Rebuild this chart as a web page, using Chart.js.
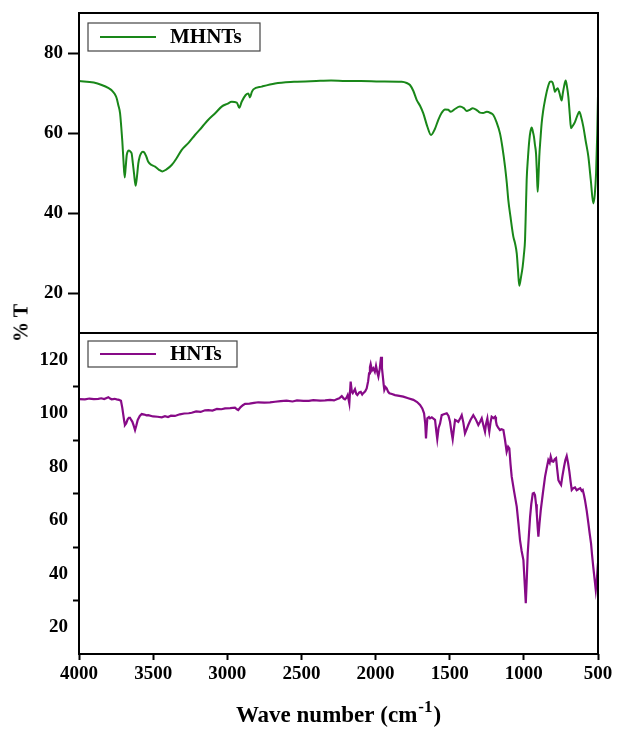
<!DOCTYPE html>
<html>
<head>
<meta charset="utf-8">
<script src="https://cdn.jsdelivr.net/npm/chart.js@4.4.1/dist/chart.umd.min.js"></script>
<style>
  body { margin: 0; background: #fff; }
  #wrap { position: relative; width: 620px; height: 735px; }
  canvas { position: absolute; left: 0; }
  #top-chart { top: 0; }
  #bottom-chart { top: 326px; }
  #ylabel {
    position: absolute; left: 21px; top: 323px;
    transform: translate(-50%, -50%) rotate(-90deg);
    font: bold 20px 'Liberation Serif', serif; white-space: nowrap; color: #000;
  }
</style>
</head>
<body>
<div id="wrap">
  <canvas id="top-chart" width="620" height="340"></canvas>
  <canvas id="bottom-chart" width="620" height="409"></canvas>
  <div id="ylabel">% T</div>
</div>
<script>
// wave numbers (cm-1) and %T
const mhntsWave = [4000, 3900, 3847, 3800, 3780, 3760, 3746, 3735, 3723, 3715, 3708, 3700, 3692, 3685, 3678, 3663, 3650, 3645, 3637, 3629, 3618, 3608, 3600, 3590, 3582, 3570, 3559, 3545, 3533, 3510, 3487, 3460, 3438, 3410, 3375, 3340, 3307, 3260, 3218, 3170, 3128, 3080, 3038, 3000, 2970, 2936, 2919, 2903, 2876, 2858, 2847, 2835, 2824, 2768, 2678, 2550, 2400, 2300, 2200, 2100, 1970, 1824, 1790, 1768, 1745, 1723, 1700, 1678, 1650, 1626, 1600, 1577, 1555, 1532, 1510, 1493, 1465, 1431, 1405, 1385, 1365, 1345, 1320, 1296, 1275, 1250, 1225, 1206, 1185, 1161, 1145, 1127, 1115, 1105, 1090, 1071, 1060, 1048, 1040, 1031, 1020, 1008, 1000, 992, 987, 981, 972, 963, 955, 947, 940, 932, 925, 918, 912, 907, 902, 896, 888, 880, 870, 857, 840, 824, 815, 806, 798, 790, 782, 772, 760, 745, 737, 729, 718, 710, 700, 690, 682, 670, 655, 640, 626, 615, 599, 583, 565, 548, 532, 522, 513, 505, 500]
const mhntsT = [73.0, 72.6, 72.0, 71.2, 70.7, 69.8, 68.7, 67.0, 64.9, 61.5, 58.0, 53.0, 48.9, 51.5, 54.5, 55.6, 55.2, 54.9, 52.5, 49.9, 46.8, 49.5, 52.4, 54.2, 54.9, 55.3, 55.1, 54.0, 52.8, 52.0, 51.6, 50.8, 50.4, 50.9, 52.0, 53.8, 55.8, 57.6, 59.5, 61.5, 63.3, 65.0, 66.6, 67.3, 67.8, 67.6, 66.3, 67.8, 69.5, 69.9, 68.9, 70.2, 70.9, 71.6, 72.4, 72.8, 73.0, 73.1, 73.0, 73.0, 72.9, 72.8, 72.5, 72.0, 70.5, 68.3, 66.8, 64.9, 61.5, 59.5, 61.0, 63.3, 65.0, 65.9, 65.8, 65.3, 66.0, 66.6, 66.2, 65.5, 65.8, 66.2, 65.8, 65.1, 65.0, 65.3, 65.0, 64.5, 62.8, 59.9, 56.5, 51.6, 47.5, 43.3, 39.0, 34.1, 32.5, 29.9, 26.0, 21.8, 23.8, 26.6, 29.5, 33.3, 40.0, 48.3, 54.0, 58.3, 60.5, 61.4, 60.5, 59.1, 57.0, 54.9, 50.0, 45.3, 48.5, 54.1, 58.5, 62.4, 65.5, 68.3, 71.2, 72.8, 72.9, 72.6, 71.5, 70.3, 70.8, 71.2, 70.0, 68.1, 70.0, 71.6, 73.1, 71.8, 69.1, 64.5, 61.2, 61.8, 62.8, 64.3, 65.3, 64.2, 61.6, 58.0, 54.1, 48.0, 42.4, 44.5, 49.9, 60.0, 69.5]

const hntsWave = [4000, 3960, 3930, 3900, 3870, 3850, 3830, 3810, 3802, 3790, 3780, 3760, 3746, 3730, 3717, 3708, 3701, 3695, 3690, 3682, 3672, 3664, 3656, 3648, 3640, 3630, 3622, 3613, 3604, 3590, 3577, 3560, 3545, 3533, 3500, 3470, 3442, 3420, 3400, 3380, 3353, 3320, 3290, 3260, 3240, 3210, 3180, 3150, 3128, 3100, 3070, 3040, 3015, 2980, 2948, 2935, 2926, 2910, 2895, 2880, 2850, 2820, 2791, 2750, 2712, 2678, 2640, 2600, 2560, 2530, 2487, 2450, 2420, 2375, 2340, 2307, 2280, 2262, 2245, 2228, 2215, 2206, 2196, 2188, 2177, 2168, 2160, 2154, 2139, 2130, 2123, 2110, 2100, 2090, 2083, 2070, 2060, 2050, 2044, 2038, 2033, 2024, 2015, 2005, 1997, 1988, 1981, 1972, 1963, 1957, 1952, 1945, 1941, 1933, 1925, 1915, 1907, 1890, 1869, 1840, 1813, 1780, 1745, 1720, 1700, 1685, 1673, 1665, 1660, 1655, 1651, 1640, 1633, 1621, 1610, 1599, 1590, 1584, 1575, 1565, 1554, 1540, 1520, 1508, 1498, 1488, 1480, 1472, 1464, 1453, 1442, 1430, 1419, 1408, 1397, 1386, 1375, 1360, 1341, 1325, 1307, 1295, 1284, 1273, 1262, 1255, 1246, 1240, 1233, 1225, 1217, 1205, 1194, 1188, 1183, 1172, 1161, 1150, 1138, 1127, 1116, 1106, 1098, 1090, 1082, 1065, 1048, 1036, 1026, 1015, 1003, 995, 987, 980, 974, 966, 958, 950, 940, 932, 925, 918, 913, 907, 902, 895, 886, 872, 857, 846, 835, 826, 819, 810, 801, 792, 783, 775, 767, 758, 749, 740, 729, 720, 711, 702, 693, 685, 677, 666, 655, 644, 633, 620, 610, 603, 595, 588, 576, 565, 556, 547, 540, 532, 522, 515, 508, 502, 500]
const hntsT = [105.3, 105.2, 105.5, 105.3, 105.4, 105.6, 105.3, 105.8, 106.0, 105.5, 105.2, 105.4, 105.2, 105.0, 104.7, 102.0, 99.3, 97.0, 95.6, 96.2, 97.7, 98.3, 98.3, 97.5, 96.8, 95.2, 93.7, 95.5, 97.5, 99.0, 99.7, 99.5, 99.2, 99.3, 98.8, 98.7, 98.5, 98.9, 98.6, 99.1, 99.0, 99.6, 99.9, 100.0, 100.2, 100.7, 100.5, 101.1, 101.2, 101.0, 101.6, 101.5, 101.8, 101.9, 102.1, 101.5, 101.2, 102.3, 103.0, 103.5, 103.6, 103.9, 104.1, 104.0, 104.1, 104.3, 104.5, 104.7, 104.4, 104.8, 104.6, 104.6, 104.9, 104.7, 104.8, 105.0, 104.8, 105.2, 105.6, 106.4, 105.5, 105.2, 105.8, 106.8, 103.7, 111.8, 108.0, 107.5, 109.0, 107.2, 106.8, 107.8, 108.0, 107.0, 107.5, 108.2, 109.3, 112.0, 114.9, 117.2, 118.4, 116.0, 116.8, 115.5, 117.7, 115.2, 113.7, 116.5, 121.1, 117.0, 114.3, 110.5, 108.7, 109.8, 109.3, 108.0, 107.5, 107.2, 106.8, 106.5, 106.2, 105.6, 105.0, 104.2, 103.1, 101.8, 100.0, 96.0, 90.6, 95.0, 98.1, 98.6, 98.1, 98.5, 98.0, 97.5, 93.0, 90.3, 94.5, 96.2, 99.3, 99.6, 100.0, 99.0, 96.8, 93.0, 90.3, 94.0, 97.5, 97.2, 96.8, 98.0, 99.3, 96.5, 92.5, 94.0, 95.6, 97.5, 99.3, 97.8, 95.6, 96.8, 98.1, 95.5, 93.1, 96.0, 98.1, 95.5, 93.1, 96.5, 98.7, 98.2, 98.7, 97.0, 95.6, 94.5, 93.7, 94.0, 93.7, 90.0, 85.6, 87.5, 86.9, 81.0, 76.3, 70.5, 65.1, 58.5, 52.6, 48.5, 45.1, 37.0, 29.0, 38.5, 47.6, 54.5, 61.3, 66.0, 70.0, 70.2, 69.4, 66.0, 62.6, 57.5, 53.9, 58.5, 63.8, 70.0, 76.3, 79.5, 82.5, 81.5, 83.8, 82.0, 81.9, 82.8, 83.2, 79.0, 75.0, 74.0, 73.2, 76.5, 80.0, 82.5, 84.0, 81.5, 78.2, 74.5, 71.3, 72.0, 72.3, 71.2, 71.6, 72.0, 71.0, 71.3, 69.5, 67.6, 63.5, 58.9, 55.0, 51.4, 47.0, 42.6, 37.5, 33.9, 37.5, 42.6, 44.0]

const xTicks = [4000, 3500, 3000, 2500, 2000, 1500, 1000, 500]
const topTicks = [20, 40, 60, 80]
const bottomTicks = [20, 30, 40, 50, 60, 70, 80, 90, 100, 110, 120]

Chart.defaults.font.family = "'Liberation Serif', 'Times New Roman', serif"
Chart.defaults.font.weight = 'bold'
Chart.defaults.color = '#000'

const toPoints = (wave, t) => wave.map((w, i) => ({ x: w, y: t[i] }))

// keep the tick labels from eating into the plot height
function noEdgePadding(s) {
    s.paddingTop = 0
    s.paddingBottom = 0
}

// black box round the plot area
const panelFrame = {
    id: 'panelFrame',
    afterDatasetsDraw(chart) {
        const { ctx, chartArea: a } = chart
        ctx.save()
        ctx.strokeStyle = '#000'
        ctx.lineWidth = 2
        ctx.strokeRect(a.left, a.top, a.right - a.left, a.bottom - a.top)
        ctx.restore()
    }
}

// legend drawn as a framed box inside the plot, like the original
const boxLegend = {
    id: 'boxLegend',
    afterDraw(chart, args, opts) {
        const { ctx, chartArea: a } = chart
        const ds = chart.data.datasets[0]
        const x = a.left + 9
        const y = a.top + opts.offset
        ctx.save()
        ctx.fillStyle = '#fff'
        ctx.fillRect(x, y, opts.width, opts.height)
        ctx.strokeStyle = '#444'
        ctx.lineWidth = 1.2
        ctx.strokeRect(x, y, opts.width, opts.height)
        ctx.strokeStyle = ds.borderColor
        ctx.lineWidth = 2
        ctx.beginPath()
        ctx.moveTo(x + 12, y + opts.height / 2)
        ctx.lineTo(x + 68, y + opts.height / 2)
        ctx.stroke()
        ctx.fillStyle = '#000'
        ctx.font = "bold 21px 'Liberation Serif', serif"
        ctx.textBaseline = 'middle'
        ctx.fillText(ds.label, x + 82, y + opts.height / 2 + 1)
        ctx.restore()
    }
}

// x axis title with a real superscript "-1"
const xTitle = {
    id: 'xTitle',
    afterDraw(chart, args, opts) {
        const { ctx, chartArea: a } = chart
        const main = 'Wave number (cm'
        const sup = '-1'
        const close = ')'
        const big = "bold 23px 'Liberation Serif', serif"
        const small = "bold 17px 'Liberation Serif', serif"
        ctx.save()
        ctx.fillStyle = '#000'
        ctx.textBaseline = 'alphabetic'
        ctx.font = big
        const wMain = ctx.measureText(main).width
        const wClose = ctx.measureText(close).width
        ctx.font = small
        const wSup = ctx.measureText(sup).width
        let x = (a.left + a.right) / 2 - (wMain + wSup + wClose + 2) / 2
        const y = a.bottom + opts.baseline
        ctx.font = big
        ctx.fillText(main, x, y)
        x += wMain + 1
        ctx.font = small
        ctx.fillText(sup, x, y - 10)
        x += wSup + 1
        ctx.font = big
        ctx.fillText(close, x, y)
        ctx.restore()
    }
}

function yScale(min, max, ticks, tickLength, hideMarkAt20) {
    return {
        min: min,
        max: max,
        afterFit: s => { s.width = 79; noEdgePadding(s) },
        afterBuildTicks: s => { s.ticks = ticks.map(v => ({ value: v })) },
        border: { display: false },
        grid: {
            drawOnChartArea: false,
            tickLength: tickLength,
            tickWidth: 2,
            tickColor: c => (hideMarkAt20 && c.tick && c.tick.value % 20 === 0) ? 'rgba(0,0,0,0)' : '#000'
        },
        ticks: {
            padding: 5,
            font: { size: 19, weight: 'bold' },
            callback: v => v % 20 === 0 ? String(v) : ''
        }
    }
}

new Chart(document.getElementById('top-chart'), {
    type: 'line',
    data: {
        datasets: [{
            label: 'MHNTs',
            data: toPoints(mhntsWave, mhntsT),
            borderColor: 'rgb(25,135,25)',
            borderWidth: 2,
            pointRadius: 0,
            cubicInterpolationMode: 'monotone'
        }]
    },
    options: {
        responsive: false,
        animation: false,
        layout: { padding: { top: 13, right: 22, bottom: 7, left: 0 } },
        scales: {
            x: { type: 'linear', display: false, min: 500, max: 4000, reverse: true },
            y: yScale(10, 90, topTicks, 11, false)
        },
        plugins: {
            legend: { display: false },
            tooltip: { enabled: false },
            boxLegend: { offset: 10, width: 172, height: 28 }
        }
    },
    plugins: [panelFrame, boxLegend]
})

new Chart(document.getElementById('bottom-chart'), {
    type: 'line',
    data: {
        datasets: [{
            label: 'HNTs',
            data: toPoints(hntsWave, hntsT),
            borderColor: 'rgb(135,10,135)',
            borderWidth: 2.2,
            pointRadius: 0
        }]
    },
    options: {
        responsive: false,
        animation: false,
        layout: { padding: { top: 7, right: 22, bottom: 0, left: 0 } },
        scales: {
            x: {
                type: 'linear',
                min: 500,
                max: 4000,
                reverse: true,
                afterFit: s => { s.height = 81 },
                afterBuildTicks: s => { s.ticks = xTicks.map(v => ({ value: v })) },
                border: { display: false },
                grid: { drawOnChartArea: false, tickLength: 6, tickWidth: 2, tickColor: '#000' },
                ticks: {
                    padding: 3,
                    maxRotation: 0,
                    autoSkip: false,
                    font: { size: 19, weight: 'bold' },
                    callback: v => String(v)
                }
            },
            y: yScale(10, 130, bottomTicks, 6, true)
        },
        plugins: {
            legend: { display: false },
            tooltip: { enabled: false },
            boxLegend: { offset: 8, width: 149, height: 26 },
            xTitle: { baseline: 68 }
        }
    },
    plugins: [panelFrame, boxLegend, xTitle]
})
</script>
</body>
</html>
